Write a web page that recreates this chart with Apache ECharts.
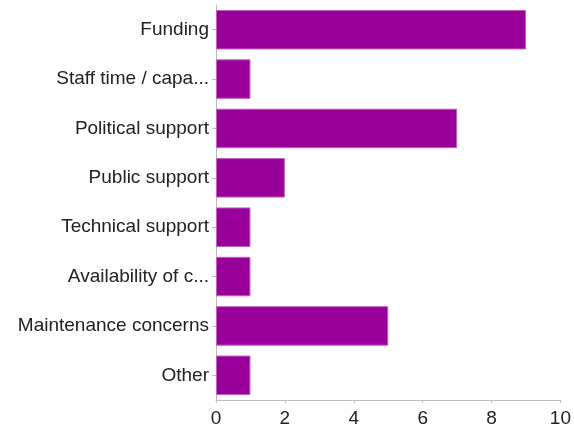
<!DOCTYPE html>
<html>
<head>
<meta charset="utf-8">
<script src="https://cdn.jsdelivr.net/npm/echarts@6/dist/echarts.min.js"></script>
<style>
  html, body { margin: 0; padding: 0; background: #fff; }
  #chart { width: 574px; height: 429px; }
</style>
</head>
<body>
<div id="chart"></div>
<script>
var categories = ['Funding', 'Staff time / capa...', 'Political support', 'Public support',
  'Technical support', 'Availability of c...', 'Maintenance concerns', 'Other'];
var counts = [9, 1, 7, 2, 1, 1, 5, 1];
var xTicks = [0, 10, 2]; // min, max, step

var myChart = echarts.init(document.getElementById('chart'));
var option = {
  animation: false,
  grid: { left: 216, right: 13, top: 5, bottom: 29, containLabel: false },
  xAxis: {
    type: 'value',
    min: xTicks[0],
    max: xTicks[1],
    interval: xTicks[2],
    axisLine: { show: true, lineStyle: { color: '#bbb', width: 1 } },
    axisTick: { show: true, length: 3, lineStyle: { color: '#bbb' } },
    axisLabel: { color: '#222', fontSize: 19, fontFamily: 'Liberation Sans', margin: 9 },
    splitLine: { show: false }
  },
  yAxis: {
    type: 'category',
    inverse: true,
    data: categories,
    axisLine: { show: true, lineStyle: { color: '#bbb', width: 1 } },
    axisTick: { show: true, length: 4, alignWithLabel: true, lineStyle: { color: '#bbb' } },
    axisLabel: { color: '#222', fontSize: 19, fontFamily: 'Liberation Sans', margin: 7 }
  },
  series: [{
    type: 'bar',
    data: counts,
    barCategoryGap: '20%',
    itemStyle: { color: '#990099', borderColor: '#c060c0', borderWidth: 1 }
  }]
};
myChart.setOption(option);
</script>
</body>
</html>
